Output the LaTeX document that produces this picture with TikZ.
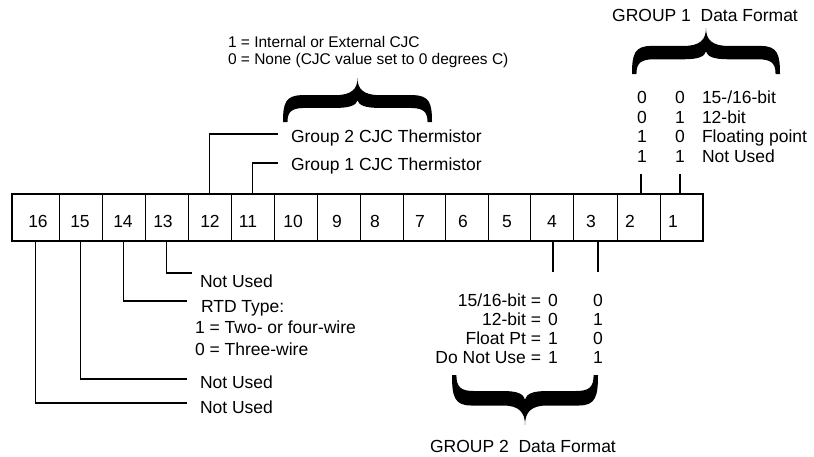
\documentclass[tikz,border=0pt]{standalone}
\usepackage{fontspec}
\setmainfont{Liberation Sans}
\begin{document}
\begin{tikzpicture}[x=1pt,y=-1pt,
  cellbox/.style={draw, line width=1pt, minimum height=47pt, inner sep=0pt, outer sep=0pt},
  lbl/.style={font=\fontsize{17.5}{21}\selectfont, inner sep=0pt, outer sep=0pt},
  note/.style={font=\fontsize{15.5}{18}\selectfont, inner sep=0pt, outer sep=0pt},
  conn/.style={line width=1.9pt},
  bigbrace/.pic={
    \fill (-1,0) .. controls (-1,0.42) and (-0.97,0.61) .. (-0.74,0.61) -- (-0.3,0.61)
      .. controls (-0.08,0.61) and (0,0.75) .. (0,1)
      .. controls (0,0.75) and (0.08,0.61) .. (0.3,0.61) -- (0.74,0.61)
      .. controls (0.97,0.61) and (1,0.42) .. (1,0)
      -- (0.94,0) .. controls (0.94,0.24) and (0.88,0.32) .. (0.7,0.32) -- (0.3,0.32)
      .. controls (0.1,0.32) and (0.02,0.38) .. (0,0.49)
      .. controls (-0.02,0.38) and (-0.1,0.32) .. (-0.3,0.32) -- (-0.7,0.32)
      .. controls (-0.88,0.32) and (-0.94,0.24) .. (-0.94,0) -- cycle;
  }]
\useasboundingbox (0,0) rectangle (814,456);

% register cells
\node[cellbox, minimum width=47pt] (c16) at (35.5,217.5) {};
\node[cellbox, minimum width=43pt] (c15) at (80.5,217.5) {};
\node[cellbox, minimum width=43pt] (c14) at (123.5,217.5) {};
\node[cellbox, minimum width=43pt] (c13) at (166.5,217.5) {};
\node[cellbox, minimum width=43pt] (c12) at (209.5,217.5) {};
\node[cellbox, minimum width=43pt] (c11) at (252.5,217.5) {};
\node[cellbox, minimum width=43pt] (c10) at (295.5,217.5) {};
\node[cellbox, minimum width=43pt] (c9) at (338.5,217.5) {};
\node[cellbox, minimum width=43pt] (c8) at (381.5,217.5) {};
\node[cellbox, minimum width=42pt] (c7) at (424,217.5) {};
\node[cellbox, minimum width=43pt] (c6) at (466.5,217.5) {};
\node[cellbox, minimum width=42pt] (c5) at (509,217.5) {};
\node[cellbox, minimum width=43pt] (c4) at (551.5,217.5) {};
\node[cellbox, minimum width=44pt] (c3) at (595,217.5) {};
\node[cellbox, minimum width=43pt] (c2) at (638.5,217.5) {};
\node[cellbox, minimum width=43pt] (c1) at (681.5,217.5) {};
\draw[line width=1.5pt] (c16.north west) rectangle (c1.south east);
\draw[line width=2pt] (c16.north west) -- (c16.south west) -- (c16.south east);
\draw[line width=2pt] (c13.south west) -- (c13.south east);
\draw[line width=2pt] (c8.south west) -- (c5.south east);

% bit numbers
\node[lbl, anchor=base] (n16) at (38,227.5) {16};
\node[lbl, anchor=base] (n15) at (80,227.5) {15};
\node[lbl, anchor=base] (n14) at (123,227.5) {14};
\node[lbl, anchor=base] (n13) at (163,227.5) {13};
\node[lbl, anchor=base] (n12) at (210,227.5) {12};
\node[lbl, anchor=base] (n11) at (248,227.5) {11};
\node[lbl, anchor=base] (n10) at (293,227.5) {10};
\node[lbl, anchor=base] (n9) at (337,227.5) {9};
\node[lbl, anchor=base] (n8) at (375,227.5) {8};
\node[lbl, anchor=base] (n7) at (420,227.5) {7};
\node[lbl, anchor=base] (n6) at (463,227.5) {6};
\node[lbl, anchor=base] (n5) at (507,227.5) {5};
\node[lbl, anchor=base] (n4) at (552,227.5) {4};
\node[lbl, anchor=base] (n3) at (591,227.5) {3};
\node[lbl, anchor=base] (n2) at (630,227.5) {2};
\node[lbl, anchor=base] (n1) at (673,227.5) {1};

% CJC thermistor bits
\node[note, anchor=base west] (note1) at (228,47) {1 = Internal or External CJC};
\node[note, anchor=base west] (note2) at (228,64.5) {0 = None (CJC value set to 0 degrees C)};
\pic at (357.5,122) [xscale=74.5, yscale=-44] {bigbrace};
\node[lbl, anchor=base west] (g2cjc) at (291,142) {Group 2 CJC Thermistor};
\node[lbl, anchor=base west] (g1cjc) at (291,170.5) {Group 1 CJC Thermistor};
\coordinate (k12) at (278,134);
\coordinate (k11) at (278,163);
\draw[conn] (c12.north) |- (k12);
\draw[conn] (c11.north) |- (k11);

% group 1 data format
\node[lbl, anchor=base] (title1) at (705,21) {GROUP 1\ \ Data Format};
\pic at (706,74) [xscale=74, yscale=-46] {bigbrace};
\node[lbl, anchor=base] (a1) at (642,103.5) {0};
\node[lbl, anchor=base] (b1) at (680,103.5) {0};
\node[lbl, anchor=base west] (t1) at (702,103.5) {15-/16-bit};
\node[lbl, anchor=base] (a2) at (642,123) {0};
\node[lbl, anchor=base] (b2) at (680,123) {1};
\node[lbl, anchor=base west] (t2) at (702,123) {12-bit};
\node[lbl, anchor=base] (a3) at (642,142.5) {1};
\node[lbl, anchor=base] (b3) at (680,142.5) {0};
\node[lbl, anchor=base west] (t3) at (702,142.5) {Floating point};
\node[lbl, anchor=base] (a4) at (642,162) {1};
\node[lbl, anchor=base] (b4) at (680,162) {1};
\node[lbl, anchor=base west] (t4) at (702,162) {Not Used};
\coordinate (k2) at (641,174);
\coordinate (k1) at (680,174);
\draw[conn] (k2 |- c2.north) -- (k2);
\draw[conn] (k1 |- c1.north) -- (k1);

% bits 13..16
\node[lbl, anchor=base west] (u13) at (200,287) {Not Used};
\node[lbl, anchor=base west] (rtd) at (201,312) {RTD Type:};
\node[lbl, anchor=base west] (rtd1) at (195,333.5) {1 = Two- or four-wire};
\node[lbl, anchor=base west] (rtd0) at (195,355) {0 = Three-wire};
\node[lbl, anchor=base west] (u15) at (200,388.5) {Not Used};
\node[lbl, anchor=base west] (u16) at (200,413) {Not Used};
\coordinate (k13) at (192,273);
\coordinate (k14) at (187,301);
\coordinate (k15) at (187,379);
\coordinate (k16) at (187,403);
\draw[conn] (c13.south) |- (k13);
\draw[conn] (c14.south) |- (k14);
\draw[conn] (c15.south) |- (k15);
\draw[conn] (c16.south) |- (k16);

% group 2 data format
\coordinate (k4) at (553,272);
\coordinate (k3) at (598,272);
\draw[conn] (k4 |- c4.south) -- (k4);
\draw[conn] (k3 |- c3.south) -- (k3);
\node[lbl, anchor=base east] (r1) at (541,306) {15/16-bit =};
\node[lbl, anchor=base east] (r2) at (541,325) {12-bit =};
\node[lbl, anchor=base east] (r3) at (541,344) {Float Pt =};
\node[lbl, anchor=base east] (r4) at (541,363) {Do Not Use =};
\node[lbl, anchor=base] (d1) at (553,306) {0};
\node[lbl, anchor=base] (e1) at (598,306) {0};
\node[lbl, anchor=base] (d2) at (553,325) {0};
\node[lbl, anchor=base] (e2) at (598,325) {1};
\node[lbl, anchor=base] (d3) at (553,344) {1};
\node[lbl, anchor=base] (e3) at (598,344) {0};
\node[lbl, anchor=base] (d4) at (553,363) {1};
\node[lbl, anchor=base] (e4) at (598,363) {1};
\pic at (525,375) [xscale=73, yscale=50] {bigbrace};
\node[lbl, anchor=base] (title2) at (523,452) {GROUP 2\ \ Data Format};
\end{tikzpicture}
\end{document}
